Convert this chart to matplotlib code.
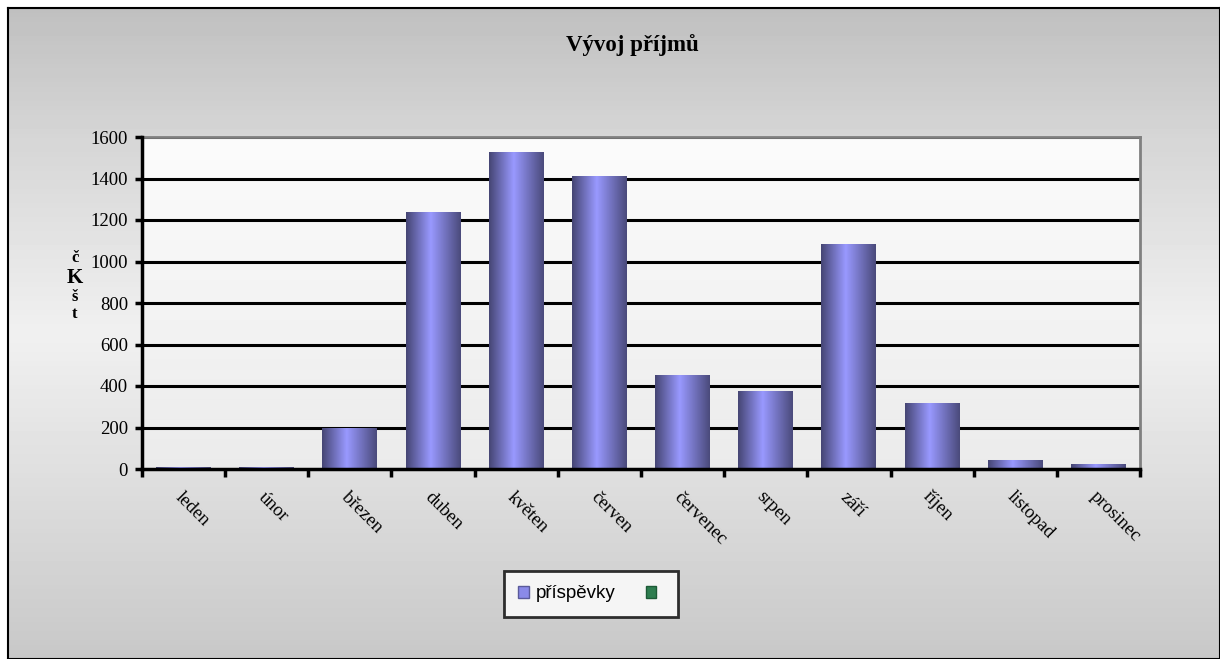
import numpy as np
import matplotlib
matplotlib.use("Agg")
import matplotlib.pyplot as plt
from matplotlib.patches import Patch
from matplotlib.colors import LinearSegmentedColormap

months = ["leden", "únor", "březen", "duben", "květen", "červen",
          "červenec", "srpen", "září", "říjen", "listopad", "prosinec"]
prispevky = [8, 8, 198, 1238, 1527, 1412, 453, 376, 1084, 318, 43, 24]
yticks = [0, 200, 400, 600, 800, 1000, 1200, 1400, 1600]
title = "Vývoj příjmů"
series_label = "příspěvky"

W, H = 1220, 659
fig = plt.figure(figsize=(W / 100, H / 100), dpi=100)
fig.patch.set_facecolor("white")

# background frame with gradient
bg = fig.add_axes([8 / W, 0, 1 - 8 / W, 651 / H], zorder=-5)
g = np.concatenate([np.linspace(192, 215, 30), np.linspace(215, 240, 40), np.linspace(240, 200, 70)])
bg.imshow(np.repeat((g / 255.0)[:, None], 2, axis=1), cmap="gray", vmin=0, vmax=1,
          aspect="auto", extent=[0, 1, 0, 1], origin="upper")
bg.set_xticks([]); bg.set_yticks([])
for s in bg.spines.values():
    s.set_color("black"); s.set_linewidth(1.5)

ax = fig.add_axes([142 / W, 190 / H, 998 / W, 332 / H])

# plot area gradient
pg = np.linspace(0.985, 0.92, 100)
ax.imshow(np.repeat(pg[:, None], 2, axis=1), cmap="gray", vmin=0, vmax=1,
          aspect="auto", extent=[-0.5, 11.5, 0, 1600], origin="upper", zorder=0)

# grid lines
for t in yticks[1:]:
    ax.axhline(t, color="black", lw=2.2, zorder=1)

# bars with cylinder gradient
cmap = LinearSegmentedColormap.from_list(
    "cyl", [(0.0, (0.27, 0.27, 0.45)), (0.45, (0.60, 0.60, 1.0)), (1.0, (0.29, 0.29, 0.48))])
grad = np.linspace(0, 1, 256)[None, :]
bars = ax.bar(np.arange(len(months)), prispevky, width=0.66, color="none", zorder=2)
for b in bars:
    x0, y0 = b.get_x(), b.get_y()
    im = ax.imshow(grad, cmap=cmap, aspect="auto",
                   extent=[x0, x0 + b.get_width(), y0, y0 + b.get_height()], zorder=2)
    im.set_clip_path(b)

ax.set_xlim(-0.5, 11.5)
ax.set_ylim(0, 1600)

for side in ["top", "right"]:
    ax.spines[side].set_color("#808080")
    ax.spines[side].set_linewidth(2)
ax.spines["left"].set_linewidth(2.5)
ax.spines["bottom"].set_linewidth(2.5)
ax.spines["left"].set_zorder(5)
ax.spines["bottom"].set_zorder(5)

ax.set_yticks(yticks)
ax.set_yticklabels([str(t) for t in yticks], fontfamily="Liberation Serif", fontsize=13.5)
ax.tick_params(axis="y", length=5, width=2.5, pad=5)

ax.set_xticks(np.arange(len(months)))
ax.set_xticklabels(months, rotation=-45, ha="left", va="top", rotation_mode="anchor",
                   fontfamily="Liberation Serif", fontsize=13.5)
ax.tick_params(axis="x", which="major", length=0, pad=14)
ax.set_xticks(np.arange(-0.5, 12, 1), minor=True)
ax.tick_params(axis="x", which="minor", length=6, width=2.5)

fig.text(632 / W, 1 - 45 / H, title, ha="center", va="center",
         fontfamily="Liberation Serif", fontweight="bold", fontsize=16.5)

# y-axis label (stacked glyphs)
for ch, yy, fs in [("č", 258, 12), ("K", 278, 15), ("š", 297, 12), ("t", 314, 12)]:
    fig.text(75 / W, 1 - yy / H, ch, ha="center", va="center",
             fontfamily="Liberation Serif", fontweight="bold", fontsize=fs)

handles = [Patch(facecolor="#8a8ae8", edgecolor="#5a5a9a"),
           Patch(facecolor="#2e7d4f", edgecolor="#1d5a36")]
leg = fig.legend(handles, [series_label, ""], ncol=2, loc="center",
                 bbox_to_anchor=(591 / W, 1 - 594 / H), frameon=True, fancybox=False,
                 prop={"family": "Liberation Sans", "size": 13.5},
                 handlelength=0.55, handleheight=0.55, handletextpad=0.4, columnspacing=1.6,
                 borderpad=0.75, borderaxespad=0)
leg.get_frame().set_edgecolor("black")
leg.get_frame().set_linewidth(2)
leg.get_frame().set_facecolor("white")

fig.savefig("out.png", dpi=100)
